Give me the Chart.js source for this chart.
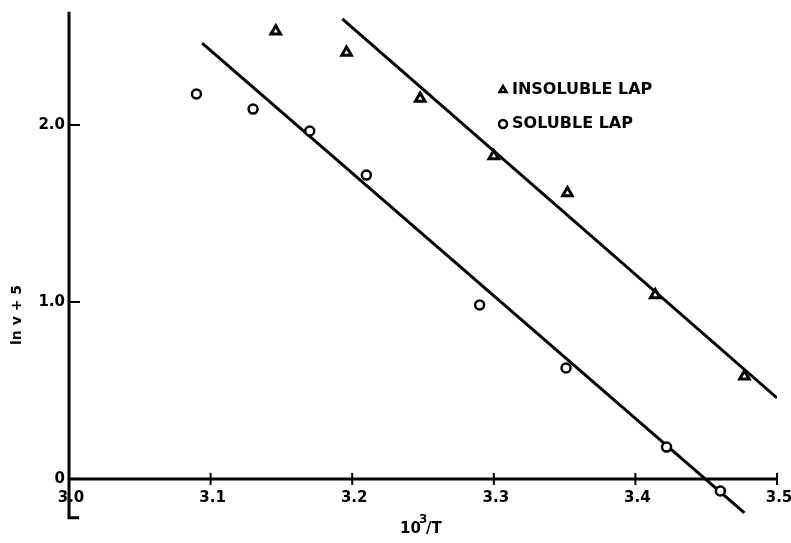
<!DOCTYPE html>
<html>
<head>
<meta charset="utf-8">
<script src="https://cdn.jsdelivr.net/npm/chart.js@4.4.0/dist/chart.umd.min.js"></script>
<style>
  html, body { margin: 0; padding: 0; background: #fff; }
  #wrap { width: 791px; height: 543px; }
</style>
</head>
<body>
<div id="wrap"><canvas id="lnvChart" width="791" height="543"></canvas></div>
<script>
// tick labels
const xTicks = [3.0, 3.1, 3.2, 3.3, 3.4, 3.5];
const xTickLabels = ['3.0', '3.1', '3.2', '3.3', '3.4', '3.5'];
const yTicks = [0, 1, 2];
const yTickLabels = ['0', '1.0', '2.0'];

// measured points
const insolubleX = [3.146, 3.196, 3.248, 3.300, 3.352, 3.414, 3.477];
const insolubleY = [2.53, 2.41, 2.15, 1.825, 1.616, 1.04, 0.58];
const solubleX = [3.090, 3.130, 3.170, 3.210, 3.290, 3.351, 3.422, 3.460];
const solubleY = [2.175, 2.09, 1.966, 1.717, 0.983, 0.627, 0.18, -0.068];

// fitted lines
const insolubleFitX = [3.193, 3.5];
const insolubleFitY = [2.60, 0.458];
const solubleFitX = [3.094, 3.477];
const solubleFitY = [2.463, -0.192];

const legendLabels = ['INSOLUBLE LAP', 'SOLUBLE LAP'];

function toPoints(xs, ys) {
	return xs.map(function(x, i){ return {x: x, y: ys[i]}; });
}

const axesPlugin = {
	id: 'oldAxes',
	beforeDatasetsDraw: function(chart) {
		const ctx = chart.ctx;
		const xs = chart.scales.x, ys = chart.scales.y;
		const x0 = xs.getPixelForValue(3.0);
		const y0 = ys.getPixelForValue(0);
		ctx.save();
		ctx.strokeStyle = '#000';
		ctx.fillStyle = '#000';
		ctx.lineWidth = 3;
		ctx.lineCap = 'butt';
		// y axis, runs a bit below zero with a small foot
		const yBot = ys.getPixelForValue(-0.22);
		ctx.beginPath();
		ctx.moveTo(x0, ys.getPixelForValue(2.64));
		ctx.lineTo(x0, yBot);
		ctx.lineTo(x0 + 10, yBot);
		ctx.stroke();
		// x axis
		ctx.beginPath();
		ctx.moveTo(x0, y0);
		ctx.lineTo(xs.getPixelForValue(3.5), y0);
		ctx.stroke();
		ctx.lineWidth = 2;
		// y ticks
		yTicks.forEach(function(v){
			const p = ys.getPixelForValue(v);
			ctx.beginPath();
			ctx.moveTo(x0, p);
			ctx.lineTo(x0 + 11, p);
			ctx.stroke();
		});
		// x ticks
		xTicks.forEach(function(v){
			if (v === 3.0) return;
			const p = xs.getPixelForValue(v);
			ctx.beginPath();
			ctx.moveTo(p, y0 - 6);
			ctx.lineTo(p, y0 + 6);
			ctx.stroke();
		});
		ctx.font = 'bold 15px "DejaVu Sans"';
		ctx.textBaseline = 'middle';
		ctx.textAlign = 'right';
		yTicks.forEach(function(v, i){
			ctx.fillText(yTickLabels[i], x0 - 4, ys.getPixelForValue(v));
		});
		ctx.textAlign = 'center';
		xTicks.forEach(function(v, i){
			ctx.fillText(xTickLabels[i], xs.getPixelForValue(v) + 2, y0 + 19);
		});
		// axis titles
		ctx.textAlign = 'left';
		ctx.fillText('10', 400, 529);
		ctx.font = 'bold 12px "DejaVu Sans"';
		ctx.fillText('3', 419, 520);
		ctx.font = 'bold 15px "DejaVu Sans"';
		ctx.fillText('/T', 426, 529);
		ctx.save();
		ctx.translate(17, 315);
		ctx.rotate(-Math.PI / 2);
		ctx.textAlign = 'center';
		ctx.font = 'bold 14px "DejaVu Sans"';
		ctx.fillText('ln v + 5', 0, 0);
		ctx.restore();
		ctx.restore();
	},
	afterDraw: function(chart) {
		const ctx = chart.ctx;
		ctx.save();
		ctx.strokeStyle = '#000';
		const styles = ['triangle', 'circle'];
		const rows = [90, 124];
		rows.forEach(function(y, i){
			ctx.lineWidth = 2.5;
			ctx.fillStyle = '#fff';
			Chart.helpers.drawPoint(ctx, {pointStyle: styles[i], radius: 4, rotation: 0, borderWidth: 2.5}, 503, y);
			ctx.fillStyle = '#000';
			ctx.font = 'bold 16px "DejaVu Sans"';
			ctx.textBaseline = 'middle';
			ctx.textAlign = 'left';
			ctx.fillText(legendLabels[i], 512, y);
		});
		ctx.restore();
	}
};

function renderChart(){
	const ctx = document.querySelector('#lnvChart').getContext('2d');
	new Chart(ctx, {
		type: 'scatter',
		data: {
			datasets: [{
				label: 'INSOLUBLE LAP',
				data: toPoints(insolubleX, insolubleY),
				pointStyle: 'triangle',
				pointRadius: 5.5,
				borderWidth: 3,
				borderColor: '#000',
				backgroundColor: '#fff'
			}, {
				label: 'SOLUBLE LAP',
				data: toPoints(solubleX, solubleY),
				pointStyle: 'circle',
				pointRadius: 4.5,
				borderWidth: 2.5,
				borderColor: '#000',
				backgroundColor: '#fff'
			}, {
				label: 'fit insoluble',
				data: toPoints(insolubleFitX, insolubleFitY),
				showLine: true,
				pointRadius: 0,
				borderWidth: 3,
				borderColor: '#000'
			}, {
				label: 'fit soluble',
				data: toPoints(solubleFitX, solubleFitY),
				showLine: true,
				pointRadius: 0,
				borderWidth: 3,
				borderColor: '#000'
			}]
		},
		options: {
			responsive: false,
			animation: false,
			layout: { padding: { left: 69, right: 14, top: 10, bottom: 11 } },
			plugins: { legend: { display: false }, tooltip: { enabled: false } },
			scales: {
				x: { type: 'linear', min: 3.0, max: 3.5, display: false },
				y: { type: 'linear', min: -0.3, max: 2.65, display: false }
			}
		},
		plugins: [axesPlugin]
	});
}

renderChart();
</script>
</body>
</html>
